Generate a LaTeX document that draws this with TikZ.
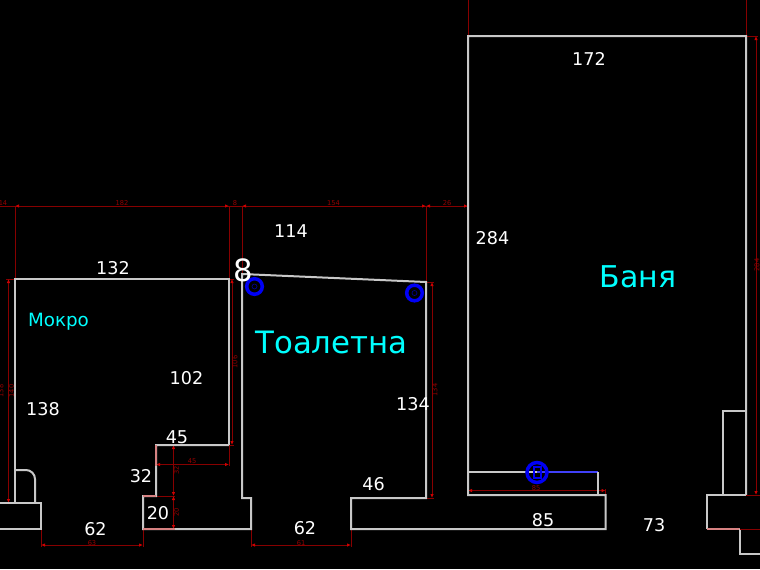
\documentclass[tikz,border=0pt]{standalone}
\usepackage{fontspec}
\setmainfont{DejaVu Sans}
\definecolor{wallc}{RGB}{200,200,200}
\definecolor{pinkc}{RGB}{215,130,130}
\definecolor{dimc}{RGB}{135,0,0}
\definecolor{bluec}{RGB}{0,0,245}
\definecolor{cyanc}{RGB}{0,255,255}
\usetikzlibrary{arrows.meta}
\tikzset{
  wall/.style={draw=wallc,line width=1.5pt,line join=miter},
  mixwall/.style={draw=pinkc,line width=1.2pt},
  dimline/.style={draw=dimc,line width=0.75pt},
  dimarrow/.style={draw=dimc,line width=0.75pt,{Latex[length=3pt,width=2.6pt,red!80!black]}-{Latex[length=3pt,width=2.6pt,red!80!black]}},
  size/.style={text=white,font=\fontsize{13.2pt}{15pt}\selectfont,inner sep=0pt},
  tiny/.style={text=dimc!90!red,font=\fontsize{5pt}{5pt}\selectfont,inner sep=0pt},
  pin/.style={draw=bluec,line width=2.6pt,fill=none},
  pindot/.style={draw=bluec!60!black,line width=0.5pt,fill=none},
}
\begin{document}
\begin{tikzpicture}[x=0.75pt,y=-0.75pt]
\useasboundingbox (0,0) rectangle (760,569);
\fill[black] (0,0) rectangle (760,569);
% anchor coordinates
\coordinate (a1) at (15,279);
\coordinate (a2) at (229,279);
\coordinate (a3) at (229,445);
\coordinate (a4) at (156,445);
\coordinate (a5) at (156,496);
\coordinate (a6) at (143,496);
\coordinate (a7) at (143,529);
\coordinate (a8) at (251,529);
\coordinate (a9) at (251,498);
\coordinate (a10) at (242,498);
\coordinate (a11) at (242,274);
\coordinate (b1) at (426,282);
\coordinate (b2) at (426,498);
\coordinate (b3) at (351,498);
\coordinate (b4) at (351,529);
\coordinate (b5) at (605.5,529);
\coordinate (b6) at (605.5,495);
\coordinate (b7) at (468,495);
\coordinate (c1) at (468,36);
\coordinate (c2) at (746,36);
\coordinate (c3) at (746,495);
\coordinate (w1) at (15,503);
\coordinate (w2) at (41,503);
\coordinate (w3) at (41,529);
\coordinate (s1) at (468,472);
\coordinate (s2) at (597.5,472);
\coordinate (s3) at (597.5,495);
% dimension lines
\draw[dimline] (0,206) -- (468,206);
\draw[dimline] (15,206) -- (a1) (229,206) -- (a2) (242,206) -- (a11) (426,206) -- (b1);
\draw[dimline] (468,0) -- (c1) (746,0) -- (c2);
\draw[dimline] (a1) -- (6,279) (w1) -- (6,503);
\draw[dimline] (c2) -- (758,36) (c3) -- (758,495);
\draw[dimline] (b1) -- (434,282) (b2) -- (434,498);
\draw[dimline] (a2) -- (234,279) (a3) -- (234,445);
\draw[dimline] (w3) -- (41,547) (a7) -- (143,547) (a8) -- (251,547) (b4) -- (351,547);
\draw[dimline] (a3) -- (229,466) (a4) -- (156,466);
\draw[dimline] (a6) -- (175,496) (a7) -- (175,529) (a4) -- (175,445);
\draw[dimline] (s1) -- (468,493) (605.5,489) -- (b6);
\draw[dimarrow] (8.5,279) -- (8.5,503);
\draw[dimarrow] (232,279) -- (232,445);
\draw[dimarrow] (432,282) -- (432,498);
\draw[dimarrow] (756,36) -- (756,495);
\draw[dimarrow] (41,545) -- (143,545);
\draw[dimarrow] (251,545) -- (351,545);
\draw[dimarrow] (156,464.5) -- (229,464.5);
\draw[dimarrow] (173.5,445) -- (173.5,496);
\draw[dimarrow] (173.5,496) -- (173.5,529);
\draw[dimarrow] (468,490.5) -- (605.5,490.5);
\draw[dimarrow] (15,206) -- (229,206);
\draw[dimarrow] (242,206) -- (426,206);
\draw[dimarrow] (426,206) -- (468,206);
% walls
\draw[wall] (0,529) -- (w3) -- (w2) -- (0,503);
\draw[wall] (a3) -- (a2) -- (a1) -- (w1) -- (w2);
\draw[wall] (a3) -- (a4) -- (a5) -- (a6) -- (a7) -- (a8) -- (a9) -- (a10) -- (a11) -- (b1) -- (b2) -- (b3) -- (b4) -- (b5) -- (b6) -- (b7) -- (c1) -- (c2) -- (c3);
\draw[mixwall] (156,445) -- (156,466) (143,496) -- (156,496) (143,529) -- (175,529);
\draw[wall] (15,470) -- (26,470) arc[start angle=-90,end angle=0,radius=9] -- (35,503);
\draw[wall] (s1) -- (537,472);
\draw[draw=bluec!75!white,line width=0.9pt] (537,472) -- (s2);
\draw[wall] (s2) -- (s3);
\draw[wall] (723,495) -- (723,410.5) -- (746,410.5);
\draw[wall] (746,495) -- (707,495) -- (707,529);
\draw[mixwall] (707,529) -- (740,529);
\draw[wall] (740,529) -- (740,554) -- (760,554);
\draw[dimline] (746,495) -- (760,495) (740,529) -- (760,529);
% pins
\draw[pin] (254.5,286.5) circle (7.8);
\draw[pin] (414.5,293) circle (7.8);
\draw[pindot] (254.5,286.5) circle (2.5);
\draw[pindot] (414.5,293) circle (2.5);
\draw[pin] (537,472.5) circle (10);
\draw[draw=bluec,line width=1.5pt] (533.5,466.5) rectangle (540.5,478);
% labels
\node[size] (t132) at (113,268) {132};
\node[size] (t114) at (291,231.5) {114};
\node[text=white,font=\fontsize{23pt}{25pt}\selectfont,inner sep=0pt] (t8) at (243.5,270.5) {8};
\node[size] (t284) at (492.5,238.5) {284};
\node[size] (t172) at (589,59) {172};
\node[size] (t102) at (186.5,378.5) {102};
\node[size] (t138) at (43,409.5) {138};
\node[size] (t134) at (413,404.5) {134};
\node[size] (t45) at (177,437.5) {45};
\node[size] (t32) at (141,476.5) {32};
\node[size] (t20) at (158,513) {20};
\node[size] (t62a) at (95.5,529.5) {62};
\node[size] (t62b) at (305,528.5) {62};
\node[size] (t46) at (373.5,484.5) {46};
\node[size] (t85) at (543,520) {85};
\node[size] (t73) at (654,525.5) {73};
\node[text=cyanc,font=\fontsize{13.7pt}{15pt}\selectfont,inner sep=0pt] (mok) at (58.5,322) {Мокро};
\node[text=cyanc,font=\fontsize{23.1pt}{25pt}\selectfont,inner sep=0pt] (toa) at (331.5,342) {Тоалетна};
\node[text=cyanc,font=\fontsize{22.5pt}{24pt}\selectfont,inner sep=0pt] (ban) at (638,276.5) {Баня};
% tiny dimension labels
\node[tiny] (d1) at (3,203) {14};
\node[tiny] (d2) at (122,203) {182};
\node[tiny] (d3) at (235,203) {8};
\node[tiny] (d4) at (333.5,203) {154};
\node[tiny] (d5) at (447,203) {26};
\node[tiny] (d6) at (92,543) {63};
\node[tiny] (d7) at (301,543) {61};
\node[tiny] (d8) at (192,461.5) {45};
\node[tiny,rotate=90] (d9) at (176.5,470.5) {32};
\node[tiny,rotate=90] (d10) at (176.5,512.5) {20};
\node[tiny,rotate=90] (d11) at (235,362) {106};
\node[tiny,rotate=90] (d12) at (11.5,391) {140};
\node[tiny,rotate=90] (d13) at (1,391) {138};
\node[tiny,rotate=90] (d14) at (435,390) {134};
\node[tiny,rotate=90] (d15) at (757,265) {284};
\node[tiny] (d16) at (536,488) {85};
\end{tikzpicture}
\end{document}
